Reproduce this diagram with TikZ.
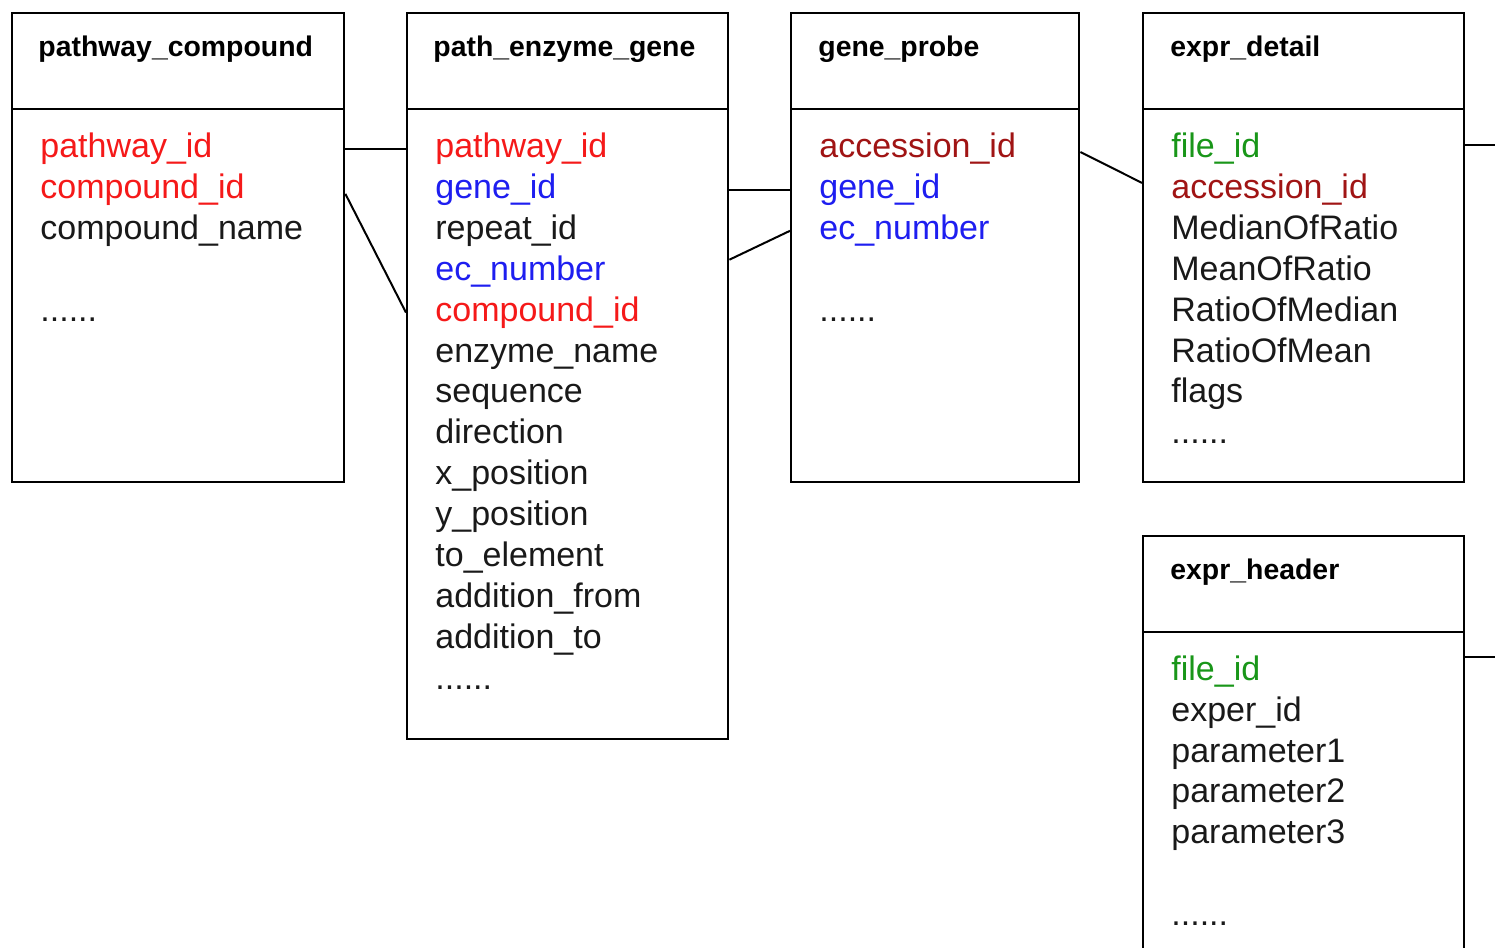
\documentclass[tikz,border=0pt]{standalone}
\usepackage{fontspec}
\setmainfont{Liberation Sans}
\usepackage{xcolor}
\definecolor{keyred}{RGB}{245,25,25}
\definecolor{keyblue}{RGB}{30,30,240}
\definecolor{keydark}{RGB}{160,20,20}
\definecolor{keygreen}{RGB}{25,150,25}
\definecolor{plaintext}{RGB}{25,25,25}
\usepackage{tikz}
\usetikzlibrary{positioning}
\newcommand{\morefields}{......}
\tikzset{
  tablebox/.style   = {rectangle, draw=black, line width=1.2pt, anchor=north west, inner sep=0pt},
  headbox/.style    = {tablebox, minimum height=48pt},
  tabletitle/.style = {anchor=west, inner sep=0pt, font=\fontsize{14.2}{17}\selectfont\bfseries,
                       text height=11pt, text depth=3pt},
  field/.style      = {anchor=west, inner sep=0pt, font=\fontsize{17}{20}\selectfont,
                       text height=12.5pt, text depth=4pt},
  link/.style       = {draw=black, line width=1pt},
}

\begin{document}
\begin{tikzpicture}[x=0.5pt, y=-0.5pt]
    \clip (0,0) rectangle (1495,948);

    % table: pathway_compound
    \node[tablebox, minimum width=166pt, minimum height=234.5pt] (pc) at (11,12) {};
    \node[headbox, minimum width=166pt] (pc-head) at (11,12) {};
    \node[tabletitle] (pc-title) at (38,48) {pathway\_compound};
    \foreach \i/\f/\c in {0/pathway\_id/keyred, 1/compound\_id/keyred,
                          2/compound\_name/plaintext, 4/\morefields/plaintext}
      \node[field, \c] (pc-\i) at (40,149+40.9*\i) {\f};

    % table: path_enzyme_gene
    \node[tablebox, minimum width=160.5pt, minimum height=363pt] (peg) at (406,12) {};
    \node[headbox, minimum width=160.5pt] (peg-head) at (406,12) {};
    \node[tabletitle] (peg-title) at (433,48) {path\_enzyme\_gene};
    \foreach \i/\f/\c in {0/pathway\_id/keyred, 1/gene\_id/keyblue, 2/repeat\_id/plaintext,
                          3/ec\_number/keyblue, 4/compound\_id/keyred, 5/enzyme\_name/plaintext,
                          6/sequence/plaintext, 7/direction/plaintext, 8/x\_position/plaintext,
                          9/y\_position/plaintext, 10/to\_element/plaintext,
                          11/addition\_from/plaintext, 12/addition\_to/plaintext, 13/\morefields/plaintext}
      \node[field, \c] (peg-\i) at (435,149+40.9*\i) {\f};

    % table: gene_probe
    \node[tablebox, minimum width=144pt, minimum height=234.5pt] (gp) at (790,12) {};
    \node[headbox, minimum width=144pt] (gp-head) at (790,12) {};
    \node[tabletitle] (gp-title) at (818,48) {gene\_probe};
    \foreach \i/\f/\c in {0/accession\_id/keydark, 1/gene\_id/keyblue,
                          2/ec\_number/keyblue, 4/\morefields/plaintext}
      \node[field, \c] (gp-\i) at (819,149+40.9*\i) {\f};

    % table: expr_detail
    \node[tablebox, minimum width=160.5pt, minimum height=234.5pt] (ed) at (1142,12) {};
    \node[headbox, minimum width=160.5pt] (ed-head) at (1142,12) {};
    \node[tabletitle] (ed-title) at (1170,48) {expr\_detail};
    \foreach \i/\f/\c in {0/file\_id/keygreen, 1/accession\_id/keydark,
                          2/MedianOfRatio/plaintext, 3/MeanOfRatio/plaintext,
                          4/RatioOfMedian/plaintext, 5/RatioOfMean/plaintext,
                          6/flags/plaintext, 7/\morefields/plaintext}
      \node[field, \c] (ed-\i) at (1171,149+40.9*\i) {\f};

    % table: expr_header (runs off the bottom)
    \node[tablebox, minimum width=160.5pt, minimum height=220pt] (eh) at (1142,535) {};
    \node[headbox, minimum width=160.5pt] (eh-head) at (1142,535) {};
    \node[tabletitle] (eh-title) at (1170,571) {expr\_header};
    \foreach \i/\f/\c in {0/file\_id/keygreen, 1/exper\_id/plaintext, 2/parameter1/plaintext,
                          3/parameter2/plaintext, 4/parameter3/plaintext, 6/\morefields/plaintext}
      \node[field, \c] (eh-\i) at (1171,672+40.8*\i) {\f};

    % links between key fields
    \draw[link] (pc.east |- pc-0) -- (peg.west |- peg-0);
    \draw[link] ([yshift=-2pt]pc.east |- pc-1) -- (peg.west |- peg-4);
    \draw[link] (peg.east |- peg-1) -- (gp.west |- gp-1);
    \draw[link] ([yshift=6pt]peg.east |- peg-3) -- (gp.west |- gp-2);
    \draw[link] ([yshift=-1.5pt]gp.east |- gp-0) -- ([yshift=3.5pt]ed.west |- ed-1);

    % links leaving the picture
    \coordinate (out) at (1500,0);
    \draw[link] ([yshift=2pt]ed.east |- ed-0) -- ([yshift=2pt]out |- ed-0);
    \draw[link] ([yshift=7.5pt]eh.east |- eh-0) -- ([yshift=7.5pt]out |- eh-0);
  \end{tikzpicture}
\end{document}
